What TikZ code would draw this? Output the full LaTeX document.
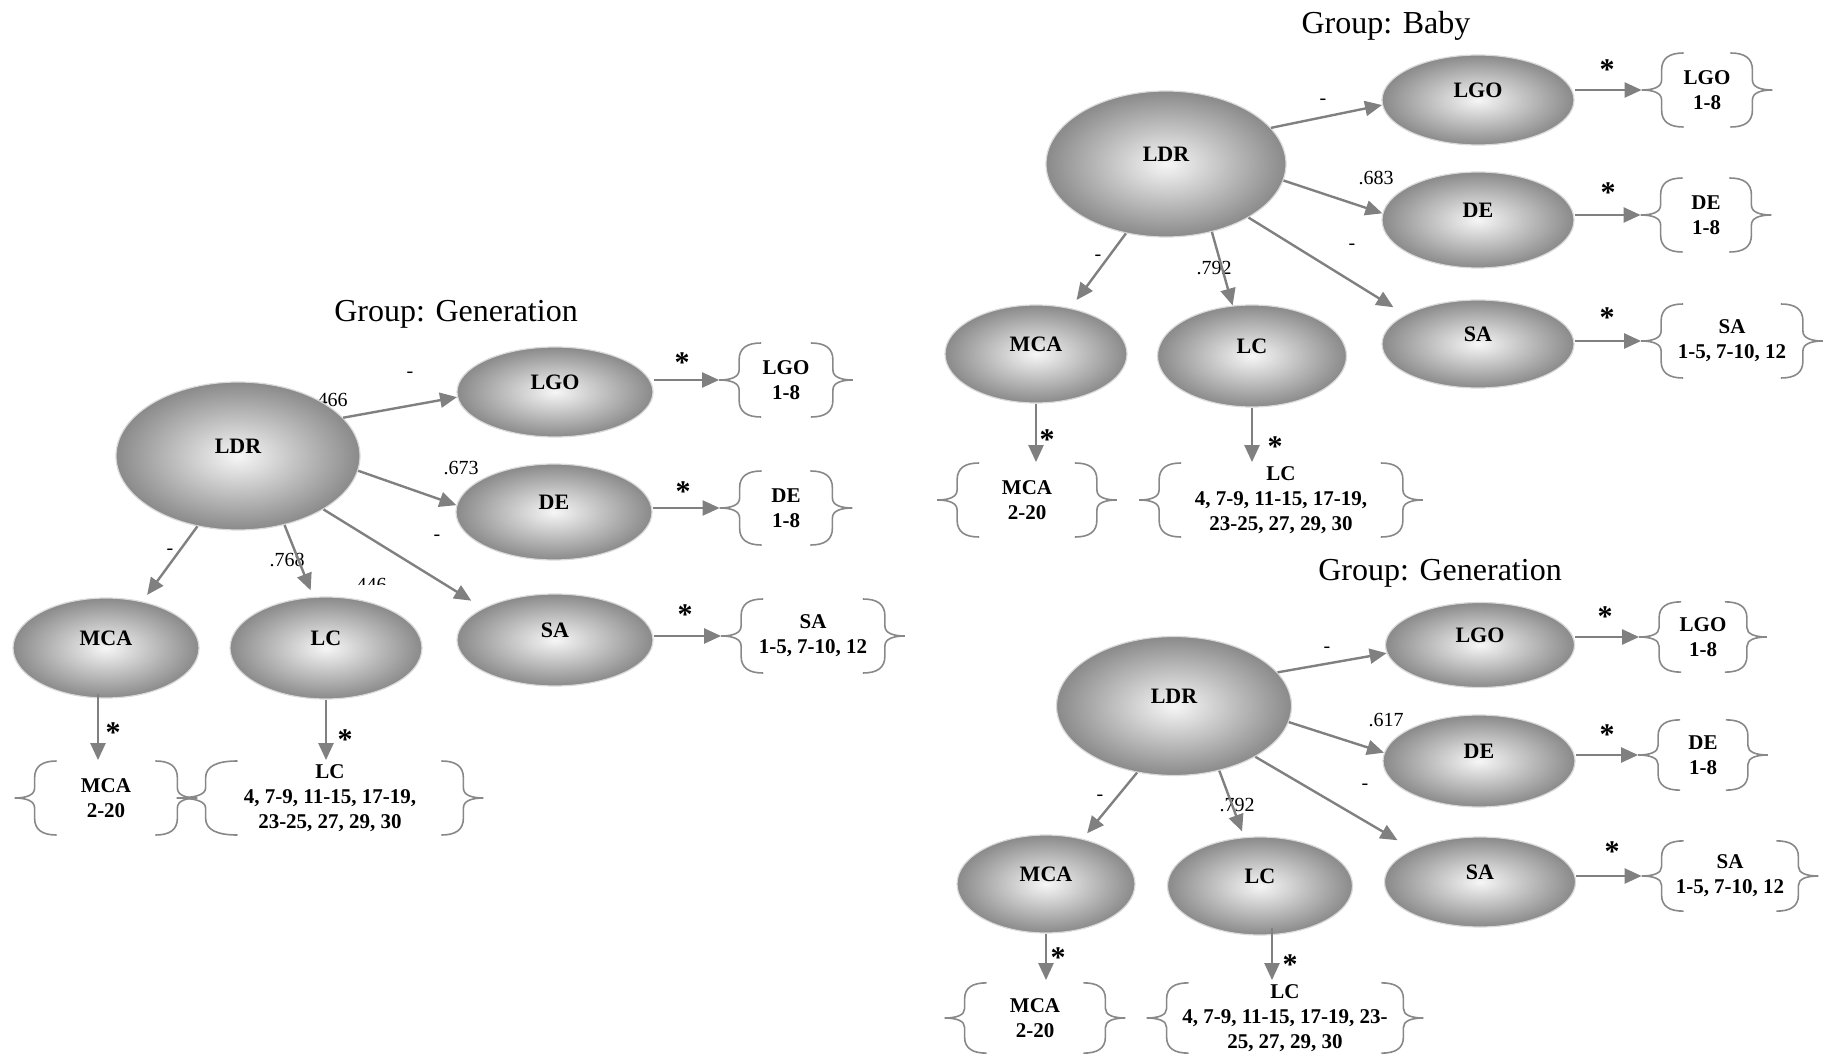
\documentclass[tikz,border=0pt]{standalone}
\usepackage{fontspec}
\setmainfont{Liberation Serif}
\usetikzlibrary{calc}
\usetikzlibrary{arrows.meta}
\usetikzlibrary{shapes.geometric}
\definecolor{ovalin}{RGB}{246,246,246}
\definecolor{ovalout}{RGB}{138,138,138}
\definecolor{linegray}{RGB}{128,128,128}
\definecolor{bracegray}{RGB}{136,136,136}
\tikzset{
  oval/.style={ellipse, draw=gray!30, line width=0.6pt, shading=radial, inner color=ovalin, outer color=ovalout, minimum width=96pt, minimum height=46pt, text depth=10pt, font=\fontsize{11}{13}\selectfont\bfseries},
  bigoval/.style={oval, minimum width=120pt, minimum height=73pt},
  lowoval/.style={oval, minimum width=93pt, minimum height=50pt},
  items/.style={inner sep=0pt, minimum height=37.5pt, align=center, font=\fontsize{10.5}{12.5}\selectfont\bfseries},
  num/.style={inner sep=0pt, font=\fontsize{10}{12}\selectfont},
  ast/.style={inner sep=0pt, yshift=-1pt, font=\fontsize{15}{15}\selectfont\bfseries},
  grp/.style={inner sep=0pt, font=\fontsize{16}{19}\selectfont},
  arr/.style={draw=linegray, line width=1.2pt, -{Triangle[length=8.5pt, width=7.5pt]}},
  bline/.style={draw=bracegray, line width=0.8pt},
  pics/lbr/.style={code={\draw [bline] (42,-37) .. controls (28,-37) and (20,-32) .. (20,-20) -- (20,-10) .. controls (20,-3) and (12,0) .. (0,0) .. controls (12,0) and (20,3) .. (20,10) -- (20,20) .. controls (20,32) and (28,37) .. (42,37);}},
  pics/rbr/.style={code={\draw [bline] (-42,-37) .. controls (-28,-37) and (-20,-32) .. (-20,-20) -- (-20,-10) .. controls (-20,-3) and (-12,0) .. (0,0) .. controls (-12,0) and (-20,3) .. (-20,10) -- (-20,20) .. controls (-20,32) and (-28,37) .. (-42,37);}}
}
\begin{document}
\begin{tikzpicture}[x=0.5pt, y=-0.5pt]
\useasboundingbox (0,0) rectangle (1826,1059);

\node [grp] (T1) at (456,314) {Group: Generation};
\node [num] (p1a) at (410,375) {-};
\node [num] (p1b) at (330,400) {.466};
\node [num] (p1c) at (461,468) {.673};
\node [num] (p1d) at (437,538) {-};
\node [num] (p1e) at (170,552) {-};
\node [num] (p1f) at (287,560) {.768};
\begin{scope}
\clip (340,576) rectangle (396,584);
\node [num] (p1g) at (369,585) {.446};
\end{scope}
\node [bigoval, minimum width=122pt, minimum height=74pt] (LDR1) at (238,456) {LDR};
\node [oval, minimum width=98pt, minimum height=45pt] (LGO1) at (555,392) {LGO};
\node [oval, minimum width=98pt, minimum height=48pt] (DE1) at (554,512) {DE};
\node [oval, minimum width=98pt] (SA1) at (555,640) {SA};
\node [lowoval] (MCA1) at (106,648) {MCA};
\node [lowoval, minimum width=96pt, minimum height=51pt] (LC1) at (326,648) {LC};
\node [items, minimum width=66.5pt] (LGO1i) at (786,380) {LGO\\1-8};
\node [items, minimum width=66pt] (DE1i) at (786,508) {DE\\1-8};
\node [items, minimum width=91.5pt] (SA1i) at (813,636) {SA\\1-5, 7-10, 12};
\node [items, minimum width=91pt] (MCA1i) at (106,798) {MCA\\2-20};
\node [items, minimum width=153pt] (LC1i) at (330,798) {LC\\4, 7-9, 11-15, 17-19,\\23-25, 27, 29, 30};
\draw [arr] (LDR1.20) to (LGO1.183);
\draw [arr] (LDR1.-7) to (DE1.176);
\draw [arr, shorten >=7pt] (LDR1.-32) to (SA1.156);
\draw [arr, shorten >=4pt] (LDR1.240) to (MCA1.52);
\draw [arr, shorten >=3.5pt] (LDR1.304) to (LC1.104);
\draw [arr] (LGO1.east |- LGO1i.west) to (LGO1i.west);
\draw [arr] (DE1.east |- DE1i.west) to (DE1i.west);
\draw [arr] (SA1.east |- SA1i.west) to (SA1i.west);
\draw [arr] ($(MCA1.south)+(-8,-5)$) to ($(MCA1.south |- MCA1i.north)+(-8,0)$);
\draw [arr] (LC1.south) to (LC1.south |- LC1i.north);
\pic at (LGO1i.west) {lbr};
\pic at (LGO1i.east) {rbr};
\pic at (DE1i.west) {lbr};
\pic at (DE1i.east) {rbr};
\pic at (SA1i.west) {lbr};
\pic at (SA1i.east) {rbr};
\pic at (MCA1i.west) {lbr};
\pic at (MCA1i.east) {rbr};
\pic [xscale=1.45] at (LC1i.west) {lbr};
\pic at (LC1i.east) {rbr};
\node [ast] (s1a) at (682,361) {*};
\node [ast] (s1b) at (683,490) {*};
\node [ast] (s1c) at (685,613) {*};
\node [ast] (s1d) at (113,731) {*};
\node [ast] (s1e) at (345,738) {*};

\node [grp] (T2) at (1386,26) {Group: Baby};
\node [num] (p2a) at (1323,102) {-};
\node [num] (p2b) at (1376,178) {.683};
\node [num] (p2c) at (1352,247) {-};
\node [num] (p2d) at (1098,258) {-};
\node [num] (p2e) at (1214,268) {.792};
\node [bigoval] (LDR2) at (1166,164) {LDR};
\node [oval, minimum height=45pt] (LGO2) at (1478,100) {LGO};
\node [oval, minimum height=48pt] (DE2) at (1478,220) {DE};
\node [oval, minimum height=44pt] (SA2) at (1478,344) {SA};
\node [lowoval, minimum width=91pt, minimum height=49pt] (MCA2) at (1036,354) {MCA};
\node [lowoval, minimum width=94.5pt, minimum height=51pt] (LC2) at (1252,356) {LC};
\node [items, minimum width=65pt] (LGO2i) at (1707,90) {LGO\\1-8};
\node [items, minimum width=65pt] (DE2i) at (1706,215) {DE\\1-8};
\node [items, minimum width=90.5pt] (SA2i) at (1732,341) {SA\\1-5, 7-10, 12};
\node [items, minimum width=89.5pt] (MCA2i) at (1027,500) {MCA\\2-20};
\node [items, minimum width=141.5pt] (LC2i) at (1281,500) {LC\\4, 7-9, 11-15, 17-19,\\23-25, 27, 29, 30};
\draw [arr] (LDR2.19) to (LGO2.183);
\draw [arr] (LDR2.-8) to (DE2.176);
\draw [arr, shorten >=7pt] (LDR2.-33) to (SA2.158);
\draw [arr, shorten >=5pt] (LDR2.240) to (MCA2.53);
\draw [arr] (LDR2.304) to (LC2.111);
\draw [arr] (LGO2.east |- LGO2i.west) to (LGO2i.west);
\draw [arr] (DE2.east |- DE2i.west) to (DE2i.west);
\draw [arr] (SA2.east |- SA2i.west) to (SA2i.west);
\draw [arr] (MCA2.south) to (MCA2.south |- MCA2i.north);
\draw [arr] (LC2.south) to (LC2.south |- LC2i.north);
\pic at (LGO2i.west) {lbr};
\pic at (LGO2i.east) {rbr};
\pic at (DE2i.west) {lbr};
\pic at (DE2i.east) {rbr};
\pic at (SA2i.west) {lbr};
\pic at (SA2i.east) {rbr};
\pic at (MCA2i.west) {lbr};
\pic at (MCA2i.east) {rbr};
\pic at (LC2i.west) {lbr};
\pic at (LC2i.east) {rbr};
\node [ast] (s2a) at (1607,68) {*};
\node [ast] (s2b) at (1608,191) {*};
\node [ast] (s2c) at (1607,316) {*};
\node [ast] (s2d) at (1047,438) {*};
\node [ast] (s2e) at (1275,445) {*};

\node [grp] (T3) at (1440,573) {Group: Generation};
\node [num] (p3a) at (1327,650) {-};
\node [num] (p3b) at (1386,720) {.617};
\node [num] (p3c) at (1365,787) {-};
\node [num] (p3d) at (1100,798) {-};
\node [num] (p3e) at (1237,805) {.792};
\node [bigoval, minimum width=117.5pt, minimum height=69.5pt] (LDR3) at (1174,706) {LDR};
\node [oval, minimum width=94.5pt, minimum height=42.5pt] (LGO3) at (1480,645) {LGO};
\node [oval] (DE3) at (1479,761) {DE};
\node [oval, minimum width=95.5pt, minimum height=45pt] (SA3) at (1480,882) {SA};
\node [lowoval, minimum width=89pt, minimum height=49pt] (MCA3) at (1046,884) {MCA};
\node [lowoval, minimum width=92.5pt, minimum height=49pt] (LC3) at (1260,886) {LC};
\node [items, minimum width=63.5pt] (LGO3i) at (1703,637) {LGO\\1-8};
\node [items, minimum width=64.5pt] (DE3i) at (1703,755) {DE\\1-8};
\node [items, minimum width=88pt] (SA3i) at (1730,876) {SA\\1-5, 7-10, 12};
\node [items, minimum width=90pt] (MCA3i) at (1035,1018) {MCA\\2-20};
\node [items, minimum width=138pt] (LC3i) at (1285,1018) {LC\\4, 7-9, 11-15, 17-19, 23-\\25, 27, 29, 30};
\draw [arr] (LDR3.18) to (LGO3.185);
\draw [arr] (LDR3.-8) to (DE3.175);
\draw [arr, shorten >=9pt] (LDR3.-32) to (SA3.154);
\draw [arr, shorten >=3.5pt] (LDR3.241) to (MCA3.51);
\draw [arr, shorten >=3pt] (LDR3.305) to (LC3.108);
\draw [arr] (LGO3.east |- LGO3i.west) to (LGO3i.west);
\draw [arr] (DE3.east |- DE3i.west) to (DE3i.west);
\draw [arr] (SA3.east |- SA3i.west) to (SA3i.west);
\draw [arr] (MCA3.south) to (MCA3.south |- MCA3i.north);
\draw [arr] ($(LC3.south)+(12,-8)$) to ($(LC3.south |- LC3i.north)+(12,0)$);
\pic [yscale=0.95] at (LGO3i.west) {lbr};
\pic [yscale=0.95] at (LGO3i.east) {rbr};
\pic [yscale=0.95] at (DE3i.west) {lbr};
\pic [yscale=0.95] at (DE3i.east) {rbr};
\pic [yscale=0.95] at (SA3i.west) {lbr};
\pic [yscale=0.95] at (SA3i.east) {rbr};
\pic [yscale=0.95] at (MCA3i.west) {lbr};
\pic [yscale=0.95] at (MCA3i.east) {rbr};
\pic [yscale=0.95] at (LC3i.west) {lbr};
\pic [yscale=0.95] at (LC3i.east) {rbr};
\node [ast] (s3a) at (1605,615) {*};
\node [ast] (s3b) at (1607,733) {*};
\node [ast] (s3c) at (1612,850) {*};
\node [ast] (s3d) at (1058,956) {*};
\node [ast] (s3e) at (1290,963) {*};
\end{tikzpicture}
\end{document}
